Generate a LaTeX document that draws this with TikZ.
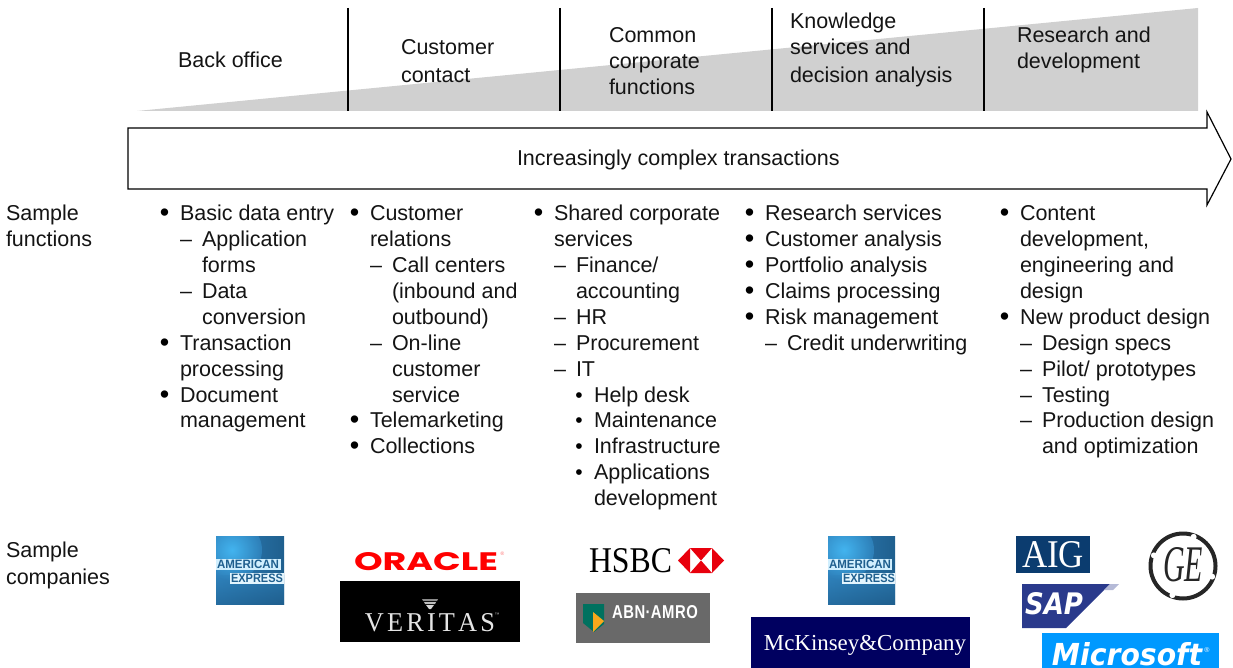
\documentclass[tikz,border=0pt]{standalone}
\usepackage{fontspec}
\usepackage{graphicx}
\setmainfont{Liberation Sans}
\newfontfamily\serifx{Liberation Serif}
\newfontfamily\heavyx{DejaVu Sans}
\newfontfamily\widex{Poppins}
\usetikzlibrary{shadings}
\definecolor{wedge}{HTML}{D0D0D0}
\definecolor{amexhi}{HTML}{47BEFA}
\definecolor{amexlo}{HTML}{1F5F8E}
\definecolor{amexmid}{HTML}{2F82BC}
\definecolor{abngray}{HTML}{696969}
\definecolor{abngreen}{HTML}{00715F}
\definecolor{abngold}{HTML}{F9A81B}
\definecolor{mcknavy}{HTML}{000060}
\definecolor{aignavy}{HTML}{0B3C6F}
\definecolor{sapblue}{HTML}{2A3A8C}
\definecolor{msblue}{HTML}{0099FF}
\definecolor{hsred}{HTML}{E8000D}
\tikzset{
  txt/.style={inner sep=0pt,outer sep=0pt,anchor=north west,align=left,text=black!92,
    font=\fontsize{21.5}{25.93}\selectfont},
  bulletmark/.style={inner sep=0pt,outer sep=0pt,anchor=base,text=black,
    font=\fontsize{27}{25.93}\selectfont},
  smallmark/.style={inner sep=0pt,outer sep=0pt,anchor=base,text=black,
    font=\fontsize{21}{25.93}\selectfont},
  logo/.style={inner sep=0pt,outer sep=0pt,anchor=center},
  divider/.style={draw=black,line width=1.1pt},
  bigarrow/.style={draw=black,line width=1.2pt,fill=white,line join=miter}
}
\newcommand{\rowy}[1]{\pgfmathsetmacro{\ybase}{220.5+25.93*(#1)}}
% free text with first baseline at y
\newcommand{\txtat}[4]{\node[txt] (#1) at (#2,#3-17) {\rule{0pt}{17pt}#4};}
% column text by row
\newcommand{\plain}[4]{\rowy{#3}\txtat{#1}{#2}{\ybase}{#4}}
\newcommand{\bul}[4]{\rowy{#3}\node[bulletmark] (#1-b) at (#2-15.5,\ybase+1) {•};\txtat{#1}{#2}{\ybase}{#4}}
\newcommand{\dsh}[4]{\rowy{#3}\node[txt] (#1-d) at (#2,\ybase-17) {\rule{0pt}{17pt}–};\txtat{#1}{#2+22}{\ybase}{#4}}
\newcommand{\sbul}[4]{\rowy{#3}\node[smallmark] (#1-b) at (#2-15,\ybase) {•};\txtat{#1}{#2}{\ybase}{#4}}
\newcommand{\fitbox}[3]{\resizebox{#1pt}{#2pt}{#3}}
\newcommand{\amex}[3]{%
  \begin{scope}
    \clip (#2,536) rectangle (#2+#3,604);
    \shade[left color=amexmid,right color=amexlo] (#2,536) rectangle (#2+#3,604);
    \shade[inner color=amexhi,outer color=amexmid,opacity=.85] (#2+16,550) circle (30);
    \shade[top color=amexmid,bottom color=amexlo,opacity=.6] (#2,575) rectangle (#2+#3,604);
    \fill[white!75!amexhi] (#2,559) rectangle (#2+#3-3,570);
    \fill[white!85!amexhi] (#2+14,573) rectangle (#2+#3,584);
  \end{scope}
  \node[logo,text=amexlo] (#1-a) at (#2+32,564.5) {\fitbox{62}{8.5}{\bfseries AMERICAN}};
  \node[logo,text=amexlo] (#1-b) at (#2+41,578.5) {\fitbox{52}{8.5}{\bfseries EXPRESS}};
}
\begin{document}
\begin{tikzpicture}[x=1pt,y=-1pt]
\useasboundingbox (0,0) rectangle (1233,668);
% wedge
\fill[wedge] (137,111) -- (1198,8) -- (1198,111) -- cycle;
\coordinate (d1t) at (348,8); \coordinate (d1b) at (348,111);
\coordinate (d2t) at (560,8); \coordinate (d2b) at (560,111);
\coordinate (d3t) at (772,8); \coordinate (d3b) at (772,111);
\coordinate (d4t) at (984,8); \coordinate (d4b) at (984,111);
\draw[divider] (d1t) -- (d1b);
\draw[divider] (d2t) -- (d2b);
\draw[divider] (d3t) -- (d3b);
\draw[divider] (d4t) -- (d4b);
% headers
\txtat{h1}{178}{67.5}{Back office}
\txtat{h2}{401}{54.5}{Customer\\[2pt]contact}
\txtat{h3}{609}{42.5}{Common\\corporate\\functions}
\txtat{h4}{790}{28.5}{Knowledge\\services and\\[2pt]decision analysis}
\txtat{h5}{1017}{42.5}{Research and\\development}
% arrow
\draw[bigarrow] (128,128) -- (1207,128) -- (1207,112) -- (1231,159) -- (1207,205) -- (1207,189) -- (128,189) -- cycle;
\txtat{arrowlabel}{517}{166}{Increasingly complex transactions}
% left labels
\plain{lf}{6}{0}{Sample\\functions}
\txtat{lc}{6}{557}{Sample\\[2pt]companies}
% column 1
\bul{a1}{180}{0}{Basic data entry}
\dsh{a2}{180}{1}{Application\\forms}
\dsh{a3}{180}{3}{Data\\conversion}
\bul{a4}{180}{5}{Transaction\\processing}
\bul{a5}{180}{7}{Document\\management}
% column 2
\bul{b1}{370}{0}{Customer\\relations}
\dsh{b2}{370}{2}{Call centers\\(inbound and\\outbound)}
\dsh{b3}{370}{5}{On-line\\customer\\service}
\bul{b4}{370}{8}{Telemarketing}
\bul{b5}{370}{9}{Collections}
% column 3
\bul{c1}{554}{0}{Shared corporate\\services}
\dsh{c2}{554}{2}{Finance/\\accounting}
\dsh{c3}{554}{4}{HR}
\dsh{c4}{554}{5}{Procurement}
\dsh{c5}{554}{6}{IT}
\sbul{c6}{594}{7}{Help desk}
\sbul{c7}{594}{8}{Maintenance}
\sbul{c8}{594}{9}{Infrastructure}
\sbul{c9}{594}{10}{Applications\\development}
% column 4
\bul{d1}{765}{0}{Research services}
\bul{d2}{765}{1}{Customer analysis}
\bul{d3}{765}{2}{Portfolio analysis}
\bul{d4}{765}{3}{Claims processing}
\bul{d5}{765}{4}{Risk management}
\dsh{d6}{765}{5}{Credit underwriting}
% column 5
\bul{e1}{1020}{0}{Content\\development,\\engineering and\\design}
\bul{e2}{1020}{4}{New product design}
\dsh{e3}{1020}{5}{Design specs}
\dsh{e4}{1020}{6}{Pilot/ prototypes}
\dsh{e5}{1020}{7}{Testing}
\dsh{e6}{1020}{8}{Production design\\and optimization}
% American Express
\amex{ax1}{216}{68}
\amex{ax2}{828}{67}
% Oracle
\node[logo,text=red] (oracle) at (426,562) {\fitbox{144}{18}{\widex\bfseries ORACLE}};
\node[logo,text=red!60] (oraclereg) at (502.5,554) {\fontsize{5}{5}\selectfont ®};
% Veritas
\fill[black] (340,581) rectangle (520,642);
\fill[black!45] (422,599) -- (438,599) -- (437,601) -- (423,601) -- cycle;
\fill[black!25] (424,602) -- (436,602) -- (435,604) -- (425,604) -- cycle;
\fill[black!15] (426,605) -- (434,605) -- (431,609) -- (429,609) -- cycle;
\node[logo,text=black!10] (veritas) at (430,623) {\fitbox{130}{18}{\serifx V\kern.12em E\kern.12em R\kern.12em I\kern.12em T\kern.12em A\kern.12em S}};
\node[logo,text=black!30] (veritastm) at (497,615) {\fontsize{5}{5}\selectfont ™};
% HSBC
\node[logo,text=black] (hsbc) at (630.5,560.5) {\fitbox{83}{24}{\serifx HSBC}};
\fill[white] (678,560.5) -- (690,548) -- (712,548) -- (724,560.5) -- (712,573) -- (690,573) -- cycle;
\fill[hsred] (678,560.5) -- (690,548) -- (690,573) -- cycle;
\fill[hsred] (724,560.5) -- (712,548) -- (712,573) -- cycle;
\fill[hsred] (690,548) -- (712,548) -- (701,560.5) -- cycle;
\fill[hsred] (690,573) -- (712,573) -- (701,560.5) -- cycle;
% ABN AMRO
\fill[abngray] (576,593) rectangle (710,643);
\fill[abngreen] (583,604) -- (604,604) -- (604,624) -- (594,632) -- (583,623) -- cycle;
\fill[abngold] (593,612) -- (604,621) -- (593,632) -- cycle;
\node[logo,text=white] (abn) at (655,612) {\fitbox{86}{13}{\bfseries A\kern.04em B\kern.04em N\kern.02em ·\kern.02em A\kern.04em M\kern.04em R\kern.04em O}};
% McKinsey
\fill[mcknavy] (751,617) rectangle (970,668);
\node[logo,text=white] (mck) at (865,645.5) {\resizebox{202pt}{!}{\serifx McKinsey\&Company}};
% AIG
\fill[aignavy] (1016,536) rectangle (1090,573);
\node[logo,text=white] (aig) at (1053,555) {\fitbox{62}{26}{\serifx AIG}};
% GE
\draw[black!85,line width=4pt] (1183,566) circle (32.5);
\foreach \a in {20,110,200,290}{\fill[white] (1183,566) ++(\a:31) circle (3);}
\node[logo,text=black!85] (ge) at (1183,565) {\fitbox{40}{34}{\serifx\itshape GE}};
% SAP
\fill[sapblue] (1022,584) -- (1110,584) -- (1066,628) -- (1022,628) -- cycle;
\fill[sapblue!35] (1110,584) -- (1119,584) -- (1113,590) -- (1104,590) -- cycle;
\node[logo,text=white] (sap) at (1054,604) {\fitbox{58}{22}{\heavyx\bfseries\itshape SAP}};
% Microsoft
\fill[msblue] (1042,633) rectangle (1219,668);
\node[logo,text=white] (ms) at (1127,654) {\fitbox{150}{23}{\heavyx\bfseries\itshape Microsoft}};
\node[logo,text=white] (msreg) at (1207,650) {\fontsize{7}{7}\selectfont ®};
\end{tikzpicture}
\end{document}
